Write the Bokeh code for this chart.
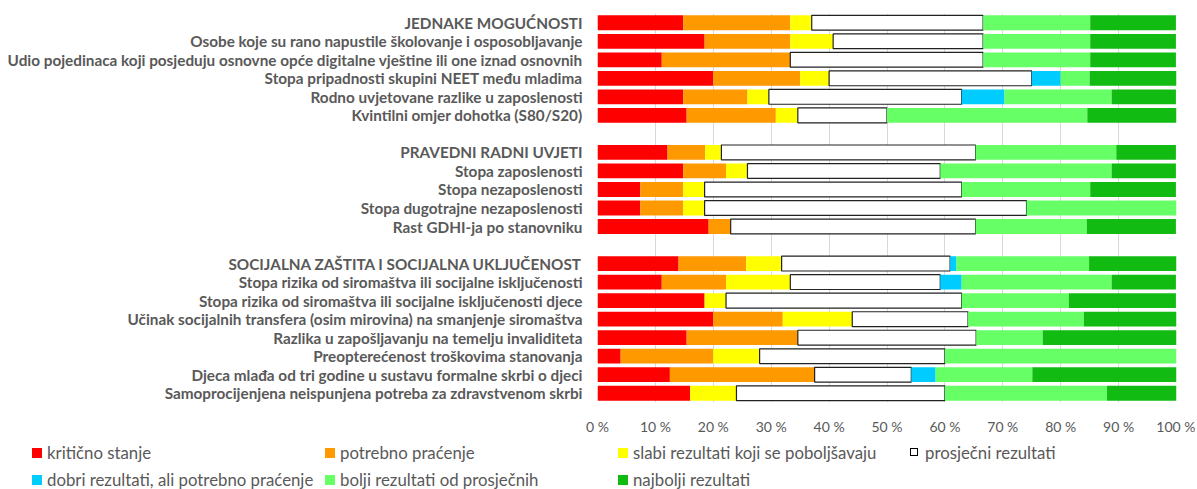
from bokeh.plotting import figure
from bokeh.layouts import column
from bokeh.models import FactorRange, Range1d, FixedTicker, PrintfTickFormatter, ColumnDataSource, Div
from bokeh.embed import file_html
from bokeh.resources import INLINE

nan = float("nan")

categories = [
    "JEDNAKE MOGUĆNOSTI",
    "Osobe koje su rano napustile školovanje i osposobljavanje",
    "Udio pojedinaca koji posjeduju osnovne opće digitalne vještine ili one iznad osnovnih",
    "Stopa pripadnosti skupini NEET među mladima",
    "Rodno uvjetovane razlike u zaposlenosti",
    "Kvintilni omjer dohotka (S80/S20)",
    " ",
    "PRAVEDNI RADNI UVJETI",
    "Stopa zaposlenosti",
    "Stopa nezaposlenosti",
    "Stopa dugotrajne nezaposlenosti",
    "Rast GDHI-ja po stanovniku",
    "  ",
    "SOCIJALNA ZAŠTITA I SOCIJALNA UKLJUČENOST",
    "Stopa rizika od siromaštva ili socijalne isključenosti",
    "Stopa rizika od siromaštva ili socijalne isključenosti djece",
    "Učinak socijalnih transfera (osim mirovina) na smanjenje siromaštva",
    "Razlika u zapošljavanju na temelju invaliditeta",
    "Preopterećenost troškovima stanovanja",
    "Djeca mlađa od tri godine u sustavu formalne skrbi o djeci",
    "Samoprocijenjena neispunjena potreba za zdravstvenom skrbi",
]

kriticno  = [14.8, 18.5, 11.1, 20.0, 14.8, 15.4, nan, 12.1, 14.8,  7.4,  7.4, 19.2, nan, 14.0, 11.1, 18.5, 20.0, 15.4,  4.0, 12.5, 16.0]
potrebno  = [18.5, 14.8, 22.2, 15.0, 11.1, 15.4, nan,  6.5,  7.4,  7.4,  7.4,  3.8, nan, 11.7, 11.1,  0.0, 12.0, 19.2, 16.0, 25.0,  0.0]
slabi     = [ 3.7,  7.4,  0.0,  5.0,  3.7,  3.8, nan,  2.8,  3.7,  3.7,  3.7,  0.0, nan,  6.1, 11.1,  3.7, 12.0,  0.0,  8.0,  0.0,  8.0]
prosjecni = [29.6, 25.9, 33.3, 35.0, 33.3, 15.4, nan, 43.9, 33.3, 44.4, 55.6, 42.3, nan, 29.1, 25.9, 40.7, 20.0, 30.8, 32.0, 16.7, 36.0]
dobri     = [ 0.0,  0.0,  0.0,  5.0,  7.4,  0.0, nan,  0.0,  0.0,  0.0,  0.0,  0.0, nan,  1.1,  3.7,  0.0,  0.0,  0.0,  0.0,  4.2,  0.0]
bolji     = [18.5, 18.5, 18.5,  5.0, 18.5, 34.6, nan, 24.3, 29.6, 22.2, 25.9, 19.2, nan, 22.9, 25.9, 18.5, 20.0, 11.5, 40.0, 16.7, 28.0]
najbolji  = [14.8, 14.8, 14.8, 15.0, 11.1, 15.4, nan, 10.3, 11.1, 14.8,  0.0, 15.4, nan, 15.1, 11.1, 18.5, 16.0, 23.1,  0.0, 25.0, 12.0]

series_keys = ["kriticno", "potrebno", "slabi", "prosjecni", "dobri", "bolji", "najbolji"]
series_names = ["kritično stanje", "potrebno praćenje", "slabi rezultati koji se poboljšavaju",
                "prosječni rezultati", "dobri rezultati, ali potrebno praćenje",
                "bolji rezultati od prosječnih", "najbolji rezultati"]
series_colors = ["#FF0000", "#FF9900", "#FFFF00", "#FFFFFF", "#00CCFF", "#66FF66", "#11BB11"]
x_ticks = [0, 10, 20, 30, 40, 50, 60, 70, 80, 90, 100]

W = 1195
GRAY = "#595959"

source = ColumnDataSource(dict(cat=categories, kriticno=kriticno, potrebno=potrebno, slabi=slabi,
                               prosjecni=prosjecni, dobri=dobri, bolji=bolji, najbolji=najbolji))

p = figure(width=W, height=437, y_range=FactorRange(factors=list(reversed(categories))),
           x_range=Range1d(0, 100), output_backend="svg", toolbar_location=None,
           min_border_left=597, min_border_right=W - 1176, min_border_top=13, min_border_bottom=35)
p.outline_line_color = None

rs = p.hbar_stack(series_keys, y="cat", height=0.8, color=series_colors, source=source, line_color=None)
rs[3].glyph.line_color = "#222222"
rs[3].glyph.line_width = 1.2

p.ygrid.grid_line_color = None
p.xgrid.grid_line_color = "#D9D9D9"
p.xgrid.ticker = FixedTicker(ticks=x_ticks)
p.xaxis.ticker = FixedTicker(ticks=x_ticks)
p.xaxis.formatter = PrintfTickFormatter(format="%d %%")
for ax in (p.xaxis[0], p.yaxis[0]):
    ax.axis_line_color = None
    ax.major_tick_line_color = None
    ax.minor_tick_line_color = None
    ax.major_tick_out = 0
    ax.major_tick_in = 0
    ax.major_label_text_color = GRAY
p.xaxis.major_label_text_font = "Lato"
p.xaxis.major_label_text_font_size = "14px"
p.xaxis.major_label_standoff = 15
p.yaxis.major_label_text_font = "Lato"
p.yaxis.major_label_text_font_style = "bold"
p.yaxis.major_label_text_font_size = "15.3px"
p.yaxis.major_label_standoff = 15

# legend strip (HTML), built from the series lists
col_x = [32, 325, 618, 910]
row_top = [6, 33]
items = []
for i, (name, color) in enumerate(zip(series_names, series_colors)):
    x = col_x[i % 4]
    t = row_top[i // 4]
    border = "1px solid #000" if color == "#FFFFFF" else "none"
    size = 8 if color == "#FFFFFF" else 10
    items.append(
        f'<span style="position:absolute;left:{x}px;top:{t + 5}px;width:{size}px;height:{size}px;'
        f'background:{color};border:{border};"></span>'
        f'<span style="position:absolute;left:{x + 15}px;top:{t}px;line-height:20px;white-space:nowrap;">{name}</span>'
    )
html = ('<div style="position:relative;width:%dpx;height:52px;font-family:Lato;font-size:16.8px;color:%s;">'
        % (W, GRAY)) + "".join(items) + "</div>"
leg = Div(text=html, width=W, height=52, margin=0)

layout = column(p, leg, spacing=0)
open("out.html", "w").write(file_html(layout, INLINE))
